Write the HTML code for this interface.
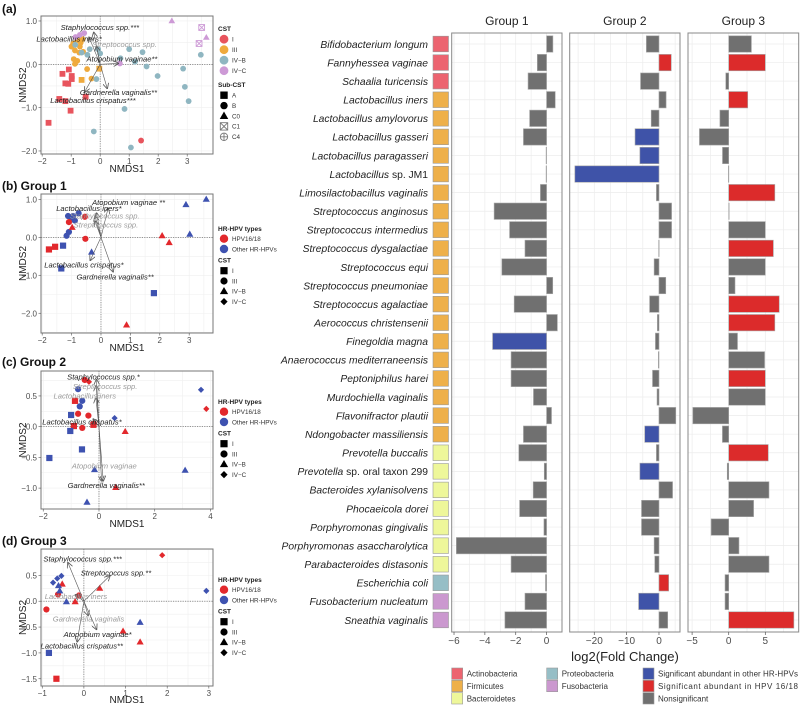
<!DOCTYPE html>
<html><head><meta charset="utf-8"><style>
html,body{margin:0;padding:0;background:#fff}
svg{display:block;font-family:"Liberation Sans",Arial,sans-serif}
</style></head><body>
<svg id="fig" width="800" height="706" viewBox="0 0 800 706" xmlns="http://www.w3.org/2000/svg">
<defs><marker id="ah" markerWidth="6" markerHeight="6" refX="5" refY="3" orient="auto" markerUnits="userSpaceOnUse"><path d="M0,0 L6,3 L0,6" fill="none" stroke="#555" stroke-width="0.8"/></marker></defs>
</svg>
<script>
// ---------- Panel (e) data ----------
const species = ["Bifidobacterium longum","Fannyhessea vaginae","Schaalia turicensis","Lactobacillus iners","Lactobacillus amylovorus","Lactobacillus gasseri","Lactobacillus paragasseri","Lactobacillus sp. JM1","Limosilactobacillus vaginalis","Streptococcus anginosus","Streptococcus intermedius","Streptococcus dysgalactiae","Streptococcus equi","Streptococcus pneumoniae","Streptococcus agalactiae","Aerococcus christensenii","Finegoldia magna","Anaerococcus mediterraneensis","Peptoniphilus harei","Murdochiella vaginalis","Flavonifractor plautii","Ndongobacter massiliensis","Prevotella buccalis","Prevotella sp. oral taxon 299","Bacteroides xylanisolvens","Phocaeicola dorei","Porphyromonas gingivalis","Porphyromonas asaccharolytica","Parabacteroides distasonis","Escherichia coli","Fusobacterium nucleatum","Sneathia vaginalis"];
const phylum = ["A","A","A","F","F","F","F","F","F","F","F","F","F","F","F","F","F","F","F","F","F","F","B","B","B","B","B","B","B","P","U","U"];
const g1 = [0.41,-0.6,-1.2,0.56,-1.1,-1.5,-0.03,-0.03,-0.4,-3.4,-2.4,-1.4,-2.9,0.4,-2.1,0.7,-3.5,-2.3,-2.3,-0.85,0.32,-1.5,-1.8,-0.15,-0.87,-1.75,-0.17,-5.85,-2.3,-0.07,-1.4,-2.7];
const g2 = [-3.9,3.8,-5.7,2.2,-2.4,-7.4,-5.9,-26,-0.8,3.9,3.9,-0.1,-1.5,2.1,-2.9,-0.5,-1.1,-0.2,-2.0,-0.6,5.2,-4.4,-0.8,-5.9,4.2,-5.4,-5.4,-1.5,-1.3,3.0,-6.3,2.7];
const g3 = [3.1,5.0,-0.4,2.6,-1.2,-4.0,-0.85,-0.05,6.3,0.05,5.0,6.1,5.0,0.86,6.9,6.3,1.2,4.9,5.0,5.0,-4.9,-0.86,5.4,-0.2,5.5,3.4,-2.4,1.4,5.5,-0.5,-0.5,8.9];
const sig1 = "nnnnnnnnnnnnnnnnbnnnnnnnnnnnnnnn";
const sig2 = "nrnnnbbbnnnnnnnnnnnnnbnbnnnnnrbn";
const sig3 = "nrnrnnnnrnnrnnrrnnrnnnrnnnnnnnnr";
const g1Ticks = [-6,-4,-2,0];
const g2Ticks = [-20,-10,0];
const g3Ticks = [-5,0,5];

// ---------- Scatter data [x, y, colorKey, shape] ----------
const ptsA = [[-1.3,-0.22,"I","s"],[-1.08,-0.12,"I","s"],[-1.2,-0.44,"I","s"],[-1.1,-0.45,"I","s"],[-0.98,-0.34,"I","s"],[-0.98,-0.27,"I","s"],[-1.41,-0.8,"I","s"],[-1.2,-0.85,"I","s"],[-1.02,-1.07,"I","s"],[-1.78,-1.35,"I","s"],[-0.5,-0.75,"I","s"],[1.41,-1.76,"I","c"],
[-0.93,0.48,"III","c"],[-0.79,0.55,"III","c"],[-0.67,0.5,"III","c"],[-0.87,0.32,"III","c"],[-0.72,0.27,"III","c"],[-0.59,0.29,"III","c"],[-0.91,0.12,"III","c"],[-0.79,0.08,"III","c"],[-0.87,0.01,"III","c"],[-0.45,-0.11,"III","c"],[-0.3,-0.33,"III","c"],[-0.7,0.41,"III","c"],[-0.99,0.41,"III","c"],[-0.61,0.58,"III","c"],[-0.64,-0.36,"III","s"],[-0.03,-0.1,"III","s"],
[-0.36,0.35,"IVB","c"],[-0.07,0.35,"IVB","c"],[-0.64,0.27,"IVB","c"],[-0.44,0.22,"IVB","c"],[0.7,0.14,"IVB","c"],[1.0,0.35,"IVB","c"],[1.46,0.28,"IVB","c"],[1.6,-0.05,"IVB","c"],[1.98,-0.27,"IVB","c"],[2.86,-0.1,"IVB","c"],[2.92,-0.52,"IVB","c"],[3.05,-0.85,"IVB","c"],[3.47,0.22,"IVB","c"],[0.84,-1.03,"IVB","c"],[1.06,-1.92,"IVB","c"],[-0.22,-1.55,"IVB","c"],[-0.13,-0.34,"IVB","c"],[-0.86,0.45,"IVB","c"],[0.0,0.25,"IVB","c"],[1.2,0.06,"IVB","c"],
[-0.85,0.63,"IVC","c"],[-0.7,0.68,"IVC","c"],[-0.55,0.72,"IVC","c"],[0.68,0.02,"IVC","c"],[2.47,1.0,"IVC","t"],[3.66,0.62,"IVC","t"],[3.5,0.85,"IVC","x"],[3.41,0.48,"IVC","x"]];
const ptsB = [[-1.77,-0.32,"R","s"],[-1.56,-0.25,"R","s"],[-1.29,-0.22,"U","s"],[-1.35,-0.82,"U","s"],[1.8,-1.47,"U","s"],
[-1.17,0.04,"U","c"],[-1.09,0.14,"U","c"],[-0.76,0.63,"U","c"],[-1.12,0.56,"U","c"],[-1.0,0.5,"U","c"],[-0.89,0.44,"U","c"],[-0.95,0.56,"U","c"],
[-1.09,0.4,"R","c"],[-0.55,0.54,"R","c"],[-0.53,-0.04,"R","c"],
[-0.98,0.26,"R","t"],[2.08,0.04,"R","t"],[2.32,-0.14,"R","t"],[0.87,-2.31,"R","t"],
[-0.32,-0.39,"U","t"],[2.89,0.86,"U","t"],[3.58,1.0,"U","t"],[3.02,0.08,"U","t"]];
const ptsC = [[-0.51,0.76,"R","c"],[-0.36,0.73,"R","d"],[-0.75,0.21,"R","c"],[-0.38,0.18,"R","c"],[-0.18,0.05,"R","c"],[-0.6,-0.02,"R","c"],[-0.86,0.42,"R","s"],[-0.9,0.01,"R","s"],[-0.2,0.03,"R","s"],[0.94,-0.08,"R","t"],[0.6,-0.99,"R","t"],[3.85,0.29,"R","d"],
[-0.75,0.61,"U","c"],[-0.6,0.42,"U","c"],[-0.69,0.33,"U","c"],[-1.0,0.19,"U","s"],[-1.03,-0.07,"U","s"],[-0.61,-0.37,"U","s"],[-1.78,-0.51,"U","s"],[-0.16,-0.7,"U","t"],[-0.43,-1.23,"U","t"],[3.09,-0.71,"U","t"],[3.66,0.6,"U","d"],[0.56,0.14,"U","d"]];
const ptsD = [[1.88,0.89,"R","d"],[-0.9,-0.16,"R","c"],[-0.62,0.13,"R","c"],[-0.12,0.11,"R","c"],[-0.52,0.33,"R","t"],[-0.21,-0.01,"R","t"],[0.38,0.25,"R","t"],[0.94,-0.58,"R","t"],[1.35,-0.79,"R","t"],[-0.66,-1.5,"R","s"],
[-0.74,0.36,"U","d"],[-0.64,0.44,"U","d"],[-0.54,0.49,"U","d"],[-0.61,0.3,"U","t"],[-0.58,0.2,"U","t"],[-0.42,-0.01,"U","t"],[1.35,-0.41,"U","t"],[-0.84,-1.0,"U","s"],[2.94,0.2,"U","d"]];
// arrows: [tipX, tipY, labelX, labelY, text, significant]
const arrA = [[-0.22,0.73,-0.01,0.85,"Staphylococcus spp.***",1],[-0.38,0.62,-1.07,0.58,"Lactobacillus iners*",1],[-0.13,0.41,0.84,0.46,"Streptococcus spp.",0],[0.62,0.02,0.75,0.12,"Atopobium vaginae**",1],[0.24,-0.55,0.63,-0.65,"Gardnerella vaginalis**",1],[-0.53,-0.63,-0.25,-0.84,"Lactobacillus crispatus***",1]];
const arrB = [[0.24,0.76,0.94,0.91,"Atopobium vaginae **",1],[-0.15,0.63,-0.41,0.76,"Lactobacillus iners*",1],[-0.2,0.55,0.13,0.56,"Staphylococcus spp.",0],[-0.2,0.42,0.17,0.32,"Streptococcus spp.",0],[-0.36,-0.6,-0.58,-0.73,"Lactobacillus crispatus*",1],[0.41,-0.9,0.48,-1.05,"Gardnerella vaginalis**",1]];
const arrC = [[-0.09,0.76,0.16,0.81,"Staphylococcus spp.*",1],[-0.1,0.66,0.22,0.65,"Streptococcus spp.",0],[-0.11,0.46,-0.51,0.5,"Lactobacillus iners",0],[-0.2,0.12,-0.61,0.08,"Lactobacillus crispatus*",1],[0.15,-0.88,0.19,-0.64,"Atopobium vaginae",0],[0.09,-0.88,0.26,-0.96,"Gardnerella vaginalis**",1]];
const arrD = [[-0.38,0.74,-0.03,0.82,"Staphylococcus spp.***",1],[0.62,0.49,0.77,0.55,"Streptococcus spp.**",1],[-0.2,0.12,-0.19,0.09,"Lactobacillus iners",0],[0.1,-0.27,0.11,-0.34,"Gardnerella vaginalis",0],[0.3,-0.54,0.33,-0.64,"Atopobium vaginae*",1],[-0.16,-0.78,-0.05,-0.87,"Lactobacillus crispatus**",1]];
const ticksAX=[-2,-1,0,1,2,3], ticksAY=[1,0,-1,-2];
const ticksBX=[-2,-1,0,1,2,3], ticksBY=[1,0,-1,-2];
const ticksCX=[-2,0,2,4], ticksCY=[0.5,0,-0.5,-1];
const ticksDX=[-1,0,1,2,3], ticksDY=[0.5,0,-0.5,-1,-1.5];

const NS="http://www.w3.org/2000/svg";
const svg=document.getElementById('fig');
function mk(tag,attrs,parent,text){const e=document.createElementNS(NS,tag);for(const k in attrs)e.setAttribute(k,attrs[k]);if(text!==undefined)e.textContent=text;(parent||svg).appendChild(e);return e;}

const colA={I:"#E8545D",III:"#EFAA3D",IVB:"#8FB6C1",IVC:"#CD9AD6"};
const colH={R:"#E2282C",U:"#3E52B0"};

function shape(g,s,x,y,c,r){
  let e;
  if(s==="c") e=mk('circle',{cx:x,cy:y,r:r,fill:c},g);
  else if(s==="s") e=mk('rect',{x:x-r,y:y-r,width:2*r,height:2*r,fill:c},g);
  else if(s==="t") e=mk('path',{d:`M${x},${y-r*1.2}L${x+r*1.15},${y+r*0.8}L${x-r*1.15},${y+r*0.8}Z`,fill:c},g);
  else if(s==="d") e=mk('path',{d:`M${x},${y-r}L${x+r},${y}L${x},${y+r}L${x-r},${y}Z`,fill:c},g);
  else if(s==="x"){e=mk('path',{d:`M${x-r},${y-r}h${2*r}v${2*r}h${-2*r}Z M${x-r},${y-r}L${x+r},${y+r}M${x+r},${y-r}L${x-r},${y+r}`,fill:"none",stroke:c,'stroke-width':0.9},g);}
  else if(s==="p"){e=mk('circle',{cx:x,cy:y,r:r,fill:"none",stroke:c,'stroke-width':0.9},g);mk('path',{d:`M${x-r},${y}h${2*r}M${x},${y-r}v${2*r}`,stroke:c,'stroke-width':0.9},g);}
  return e;
}

function scatter(P){
  const g=mk('g',{},svg);
  
  
  const sx=v=>P.x0+(v-P.xd[0])/(P.xd[1]-P.xd[0])*(P.x1-P.x0);
  const sy=v=>P.y0+(P.yd[1]-v)/(P.yd[1]-P.yd[0])*(P.y1-P.y0);
  const xs=P.xt, ys=P.yt, dx=xs[1]-xs[0], dy=ys[0]-ys[1];
  for(let v=xs[0]-dx/2; v<P.xd[1]; v+=dx/2){ if(v<P.xd[0])continue; mk('line',{x1:sx(v),x2:sx(v),y1:P.y0,y2:P.y1,stroke:"#efefef",'stroke-width':0.6},g);}
  for(let v=ys[ys.length-1]-dy/2; v<P.yd[1]; v+=dy/2){ if(v<P.yd[0])continue; mk('line',{y1:sy(v),y2:sy(v),x1:P.x0,x2:P.x1,stroke:"#efefef",'stroke-width':0.6},g);}
  mk('line',{x1:sx(0),x2:sx(0),y1:P.y0,y2:P.y1,stroke:"#555",'stroke-width':0.6,'stroke-dasharray':"1.2,1.2"},g);
  mk('line',{y1:sy(0),y2:sy(0),x1:P.x0,x2:P.x1,stroke:"#555",'stroke-width':0.6,'stroke-dasharray':"1.2,1.2"},g);
  P.pts.forEach(p=>{const e=shape(g,p[3],sx(p[0]),sy(p[1]),P.col[p[2]],P.r);
    
    });
  P.arr.forEach(a=>{
    const l=mk('line',{x1:sx(0),y1:sy(0),x2:sx(a[0]),y2:sy(a[1]),stroke:"#555",'stroke-width':0.6,'marker-end':"url(#ah)"},g);
    
    
    const t=mk('text',{x:sx(a[2]),y:sy(a[3])+2.5,'text-anchor':"middle",'font-size':"7.6",'font-style':"italic",fill:a[5]?"#222":"#9a9a9a"},g,a[4]);
    
    
  });
  mk('rect',{x:P.x0,y:P.y0,width:P.x1-P.x0,height:P.y1-P.y0,fill:"none",stroke:"#777",'stroke-width':1},g);
  P.xt.forEach(v=>{mk('line',{x1:sx(v),x2:sx(v),y1:P.y1,y2:P.y1+2.5,stroke:"#555",'stroke-width':0.6},g);
    const t=mk('text',{x:sx(v),y:P.y1+10,'text-anchor':"middle",'font-size':"8",fill:"#4d4d4d"},g,v<0?"\u2212"+(-v):String(v));
    });
  P.yt.forEach(v=>{mk('line',{x1:P.x0-2.5,x2:P.x0,y1:sy(v),y2:sy(v),stroke:"#555",'stroke-width':0.6},g);
    const s=v.toFixed(1); const t=mk('text',{x:P.x0-4,y:sy(v)+3,'text-anchor':"end",'font-size':"8",fill:"#4d4d4d"},g,s.replace("-","\u2212"));
    });
  const xt=mk('text',{x:(P.x0+P.x1)/2,y:P.y1+P.xo,'text-anchor':"middle",'font-size':"10",fill:"#222"},g,"NMDS1");
  
  const yt=mk('text',{x:0,y:0,transform:`translate(26,${(P.y0+P.y1)/2}) rotate(-90)`,'text-anchor':"middle",'font-size':"10",fill:"#222"},g,"NMDS2");
  
  const tl=mk('text',{x:2,y:P.ty,'font-size':"12",'font-weight':"bold",fill:"#111"},g,P.title);
  
}

function legendHPV(y){
  const g=mk('g',{},svg);
  
  
  mk('text',{x:218,y:y,'font-size':"6.5",'font-weight':"bold",fill:"#222"},g,"HR-HPV types");
  [["R","HPV16/18"],["U","Other HR-HPVs"]].forEach((e,i)=>{const yy=y+10+i*10.3;mk('circle',{cx:224,cy:yy-2.3,r:4.2,fill:colH[e[0]]},g);mk('text',{x:232,y:yy,'font-size':"6.3",fill:"#333"},g,e[1]);});
  mk('text',{x:218,y:y+31.5,'font-size':"6.5",'font-weight':"bold",fill:"#222"},g,"CST");
  [["s","I"],["c","III"],["t","IV\u2212B"],["d","IV\u2212C"]].forEach((e,i)=>{const yy=y+42+i*10.3;shape(g,e[0],224,yy-2.3,"#000",3.6);mk('text',{x:232,y:yy,'font-size':"6.3",fill:"#333"},g,e[1]);});
}

scatter({name:"panel-a-nmds",title:"(a)",ty:13,x0:41,y0:16,x1:213,y1:154,xo:18,xd:[-2.04,3.89],yd:[-2.07,1.115],xt:ticksAX,yt:ticksAY,pts:ptsA,arr:arrA,col:colA,r:2.9});
scatter({name:"panel-b-group1",title:"(b) Group 1",ty:190,x0:41,y0:194,x1:213,y1:333,xo:18,xd:[-2.04,3.81],yd:[-2.52,1.14],xt:ticksBX,yt:ticksBY,pts:ptsB,arr:arrB,col:colH,r:3.1});
scatter({name:"panel-c-group2",title:"(c) Group 2",ty:366,x0:41,y0:371,x1:213,y1:509,xo:18,xd:[-2.08,4.09],yd:[-1.34,0.906],xt:ticksCX,yt:ticksCY,pts:ptsC,arr:arrC,col:colH,r:3.1});
scatter({name:"panel-d-group3",title:"(d) Group 3",ty:545,x0:41,y0:549,x1:213,y1:686,xo:17,xd:[-1.03,3.1],yd:[-1.64,1.01],xt:ticksDX,yt:ticksDY,pts:ptsD,arr:arrD,col:colH,r:3.1});

(function(){
  const g=mk('g',{},svg);
  
  
  mk('text',{x:218,y:31,'font-size':"6.5",'font-weight':"bold",fill:"#222"},g,"CST");
  [["I","I"],["III","III"],["IVB","IV\u2212B"],["IVC","IV\u2212C"]].forEach((e,i)=>{const yy=41.5+i*10.5;mk('circle',{cx:224,cy:yy-2.3,r:4.4,fill:colA[e[0]]},g);mk('text',{x:232,y:yy,'font-size':"6.3",fill:"#333"},g,e[1]);});
  mk('text',{x:218,y:87,'font-size':"6.5",'font-weight':"bold",fill:"#222"},g,"Sub-CST");
  [["s","A"],["c","B"],["t","C0"],["x","C1"],["p","C4"]].forEach((e,i)=>{const yy=97.5+i*10.4;shape(g,e[0],224,yy-2.3,e[0]==="x"||e[0]==="p"?"#777":"#000",3.7);mk('text',{x:232,y:yy,'font-size':"6.3",fill:"#333"},g,e[1]);});
})();
legendHPV(231);
legendHPV(404);
legendHPV(582);

// ---------- Panel (e) ----------
const phyCol={A:"#EC6470",F:"#EEB04A",B:"#EEF79A",P:"#96BEC6",U:"#CB98CF"};
const sigCol={n:"#707070",b:"#3F53A8",r:"#DC2B2B"};
const rowY=i=>44+i*18.58;
const panelsE=[
  {name:"group-1",title:"Group 1",x0:451.7,x1:562,d:[-6.15,1.0],vals:g1,sig:sig1,ticks:g1Ticks,minor:1},
  {name:"group-2",title:"Group 2",x0:569.7,x1:680,d:[-27.6,6.5],vals:g2,sig:sig2,ticks:g2Ticks,minor:5},
  {name:"group-3",title:"Group 3",x0:688,x1:798.7,d:[-5.56,9.56],vals:g3,sig:sig3,ticks:g3Ticks,minor:2.5}];
const top0=33, bot0=632;
panelsE.forEach(P=>{
  const g=mk('g',{},svg);
  
  
  const sx=v=>P.x0+(v-P.d[0])/(P.d[1]-P.d[0])*(P.x1-P.x0);
  for(let v=Math.ceil(P.d[0]/P.minor)*P.minor; v<=P.d[1]; v+=P.minor){mk('line',{x1:sx(v),x2:sx(v),y1:top0,y2:bot0,stroke:"#ececec",'stroke-width':0.7},g);}
  species.forEach((s,i)=>mk('line',{x1:P.x0,x2:P.x1,y1:rowY(i),y2:rowY(i),stroke:"#ececec",'stroke-width':0.7},g));
  P.vals.forEach((v,i)=>{
    const x=Math.min(sx(0),sx(v)), w=Math.max(Math.abs(sx(v)-sx(0)),0.5);
    const r=mk('rect',{x:x,y:rowY(i)-8.2,width:w,height:16.4,fill:sigCol[P.sig[i]],stroke:"#a8a8a8",'stroke-width':0.6},g);
    
    
  });
  mk('rect',{x:P.x0,y:top0,width:P.x1-P.x0,height:bot0-top0,fill:"none",stroke:"#888",'stroke-width':1},g);
  const t=mk('text',{x:(P.x0+P.x1)/2,y:25,'text-anchor':"middle",'font-size':"12",fill:"#222"},g,P.title);
  
  P.ticks.forEach(v=>{mk('line',{x1:sx(v),x2:sx(v),y1:bot0,y2:bot0+3,stroke:"#555",'stroke-width':0.7},g);
    const tl=mk('text',{x:sx(v),y:644,'text-anchor':"middle",'font-size':"10",fill:"#4d4d4d"},g,v<0?"\u2212"+(-v):String(v));
    });
});
species.forEach((s,i)=>{
  const y=rowY(i);
  const t=mk('text',{x:428,y:y+3.8,'text-anchor':"end",'font-size':"10.3",fill:"#222"},svg);
  
  
  const m=s.match(/^(.*?)( sp\..*)$/);
  if(m){mk('tspan',{'font-style':"italic"},t,m[1]);mk('tspan',{},t,m[2]);}
  else mk('tspan',{'font-style':"italic"},t,s);
  const b=mk('rect',{x:433,y:y-7.8,width:15.5,height:15.6,fill:phyCol[phylum[i]],stroke:"#999",'stroke-width':0.6},svg);
  
  
});
const xt=mk('text',{x:625,y:661,'text-anchor':"middle",'font-size':"13",fill:"#222"},svg,"log2(Fold Change)");

const legE=[[451.7,0,"#EC6470","Actinobacteria"],[451.7,1,"#EEB04A","Firmicutes"],[451.7,2,"#EEF79A","Bacteroidetes"],[546.7,0,"#96BEC6","Proteobacteria"],[546.7,1,"#CB98CF","Fusobacteria"],[643,0,"#3F53A8","Significant abundant in other HR-HPVs"],[643,1,"#DC2B2B","Significant abundant in HPV 16/18"],[643,2,"#707070","Nonsignificant"]];
legE.forEach(e=>{
  const y=673.7+e[1]*12.3;
  const g=mk('g',{},svg);
  
  
  mk('rect',{x:e[0],y:y-5.7,width:11,height:11.4,fill:e[2],stroke:"#999",'stroke-width':0.6},g);
  mk('text',{x:e[0]+15,y:y+3,'font-size':"8",fill:"#333",textLength:e[3].length>30?"140":null},g,e[3]);
});
document.querySelectorAll('text[textLength="null"]').forEach(t=>t.removeAttribute('textLength'));
</script>
</body></html>
